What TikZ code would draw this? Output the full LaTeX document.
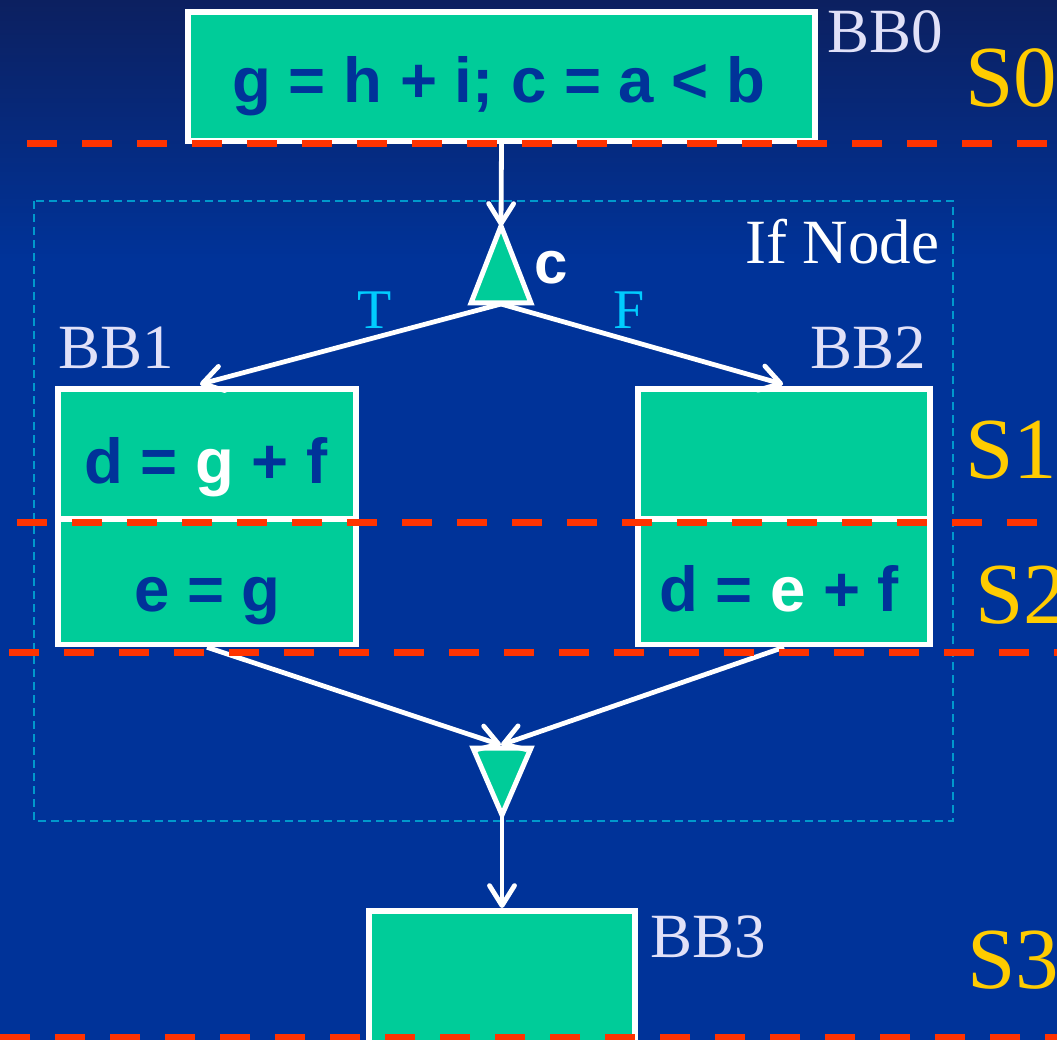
\documentclass[tikz,border=0pt]{standalone}
\usepackage{fontspec}
\setmainfont{Liberation Serif}
\newfontfamily\arialf{Liberation Sans}
\usetikzlibrary{arrows.meta}
\definecolor{bgblue}{RGB}{0,51,153}
\definecolor{bgtop}{RGB}{12,32,96}
\definecolor{bbgreen}{RGB}{0,204,153}
\definecolor{codeblue}{RGB}{0,51,153}
\definecolor{lav}{RGB}{225,225,248}
\definecolor{syellow}{RGB}{255,204,0}
\definecolor{sred}{RGB}{255,51,0}
\definecolor{dotblue}{RGB}{0,153,204}
\definecolor{tfcyan}{RGB}{0,204,255}
\tikzset{
  bbox/.style={draw=white, fill=bbgreen, line width=5.5pt, inner sep=0pt, rectangle},
  codetxt/.style={inner sep=0pt, anchor=base, text=codeblue, font=\arialf\bfseries\fontsize{63.5}{63.5}\selectfont},
  bblabel/.style={inner sep=0pt, anchor=base west, text=lav, font=\fontsize{63}{63}\selectfont},
  slabel/.style={inner sep=0pt, anchor=base west, text=syellow, font=\fontsize{87}{87}\selectfont},
  tflabel/.style={inner sep=0pt, anchor=base, text=tfcyan, font=\fontsize{56}{56}\selectfont},
  conn/.style={draw=white, line width=4.8pt, -{Straight Barb[length=20pt,width=25pt,line cap=round,line join=round]}},
  trishape/.style={draw=white, fill=bbgreen, line width=5pt, line join=miter},
  stageline/.style={draw=sred, line width=7pt, dash pattern=on 30pt off 25pt},
  ifbox/.style={draw=dotblue, line width=2pt, dash pattern=on 8pt off 5pt}
}
\begin{document}
\begin{tikzpicture}[x=1pt,y=-1pt]
\useasboundingbox (0,0) rectangle (1057,1040);
% background
\fill[bgblue] (0,0) rectangle (1057,1040);
\shade[top color=bgtop, bottom color=bgblue] (0,0) rectangle (1057,260);

% If Node region
\draw[ifbox] (34,201) rectangle (953,821);

% basic blocks
\node[bbox, minimum width=627pt, minimum height=129pt] (bb0) at (501.5,76.5) {};
\node[bbox, minimum width=298pt, minimum height=130pt] (bb1a) at (207,454) {};
\node[bbox, minimum width=298pt, minimum height=125.5pt] (bb1b) at (207,581.75) {};
\node[bbox, minimum width=292pt, minimum height=130pt] (bb2a) at (784,454) {};
\node[bbox, minimum width=292pt, minimum height=125.5pt] (bb2b) at (784,581.75) {};
\node[bbox, minimum width=266pt, minimum height=160pt, anchor=north] (bb3) at (502,908) {};

% code texts
\node[codetxt] (t0) at (499,103) {g = h + i; c = a < b};
\node[codetxt] (t1) at (206,483) {d = \textcolor{white}{g} + f};
\node[codetxt] (t2) at (207.5,611) {e = g};
\node[codetxt] (t3) at (779,611) {d = \textcolor{white}{e} + f};

% block labels
\node[bblabel] (l0) at (827,53) {BB0};
\node[bblabel] (l1) at (58,368) {BB1};
\node[bblabel] (l2) at (810,369) {BB2};
\node[bblabel] (l3) at (650,957) {BB3};
\node[inner sep=0pt, anchor=base west, text=white, font=\fontsize{63}{63}\selectfont] (ifl) at (745,264) {If Node};

% branch triangle
\coordinate (brtop) at (501,226);
\coordinate (brbase) at (501,304);
\draw[trishape] (brtop) -- (531,303) -- (471,303) -- cycle;
\node[inner sep=0pt, anchor=base west, text=white, font=\arialf\bfseries\fontsize{60}{60}\selectfont] (cl) at (534,284) {c};

% merge triangle
\coordinate (mgtop) at (501,745);
\coordinate (mgbot) at (502,815);
\draw[trishape] (473,748) -- (531,748) -- (mgbot) -- cycle;

% connectors
\draw[conn] (bb0.south) -- (brtop);
\draw[conn] (brbase) -- ([xshift=-7pt,yshift=2pt]bb1a.north);
\draw[conn] (brbase) -- ([xshift=-1pt,yshift=2pt]bb2a.north);
\draw[conn] (bb1b.south) -- (mgtop);
\draw[conn] (bb2b.south) -- (mgtop);
\draw[conn] (mgbot) -- (bb3.north);

\node[tflabel] (tl) at (375,329) {T};
\node[tflabel] (fl) at (629,329) {F};

% stage lines
\draw[stageline] (27,143.5) -- (1057,143.5);
\draw[stageline] (17,522) -- (1057,522);
\draw[stageline] (9,652) -- (1057,652);
\draw[stageline] (0,1037) -- (1057,1037);

% stage labels
\node[slabel] (s0) at (965,107) {S0};
\node[slabel] (s1) at (965,478) {S1};
\node[slabel] (s2) at (975,623) {S2};
\node[slabel] (s3) at (967,988) {S3};
\end{tikzpicture}
\end{document}
